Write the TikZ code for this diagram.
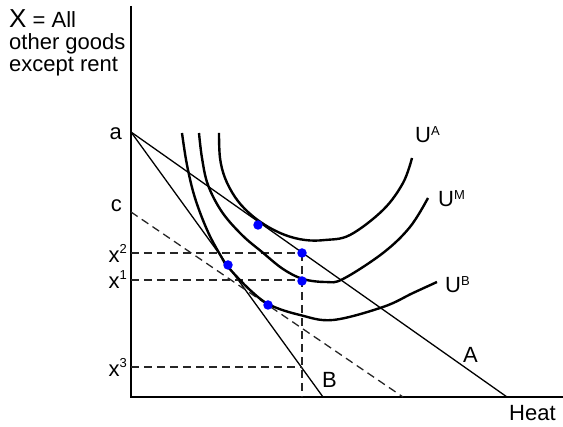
\documentclass[tikz,border=0pt]{standalone}
\usepackage{fontspec}
\setmainfont{Liberation Sans}
\newcommand{\upidx}[2][7pt]{\raisebox{#1}{\fontsize{13}{13}\selectfont #2}}

\begin{document}
\begin{tikzpicture}[x=1pt,y=1pt,
    lab/.style={font=\fontsize{22}{26}\selectfont,inner sep=0pt},
    curve/.style={line width=2.4pt},
    budget/.style={line width=1.3pt},
    guide/.style={line width=1.3pt,black!85,dash pattern=on 8pt off 5pt},
    dot/.style={circle,fill=blue,inner sep=0pt,minimum size=9.5pt}]
  \useasboundingbox (-131,-30) rectangle (432,397);
  % axes
  \coordinate (O) at (0,0);
  \coordinate (ytop) at (0,391);
  \coordinate (xend) at (432,0);
  \draw[line width=1.3pt] (ytop) -- (O) -- (xend);
  % budget lines
  \coordinate (a) at (0,265);
  \coordinate (c) at (0,185);
  \coordinate (Aend) at (376,0);
  \coordinate (Bend) at (192,0);
  \coordinate (Cend) at (272,0);
  \draw[budget] (a) -- (Aend);
  \draw[budget] (a) -- (Bend);
  \draw[guide] (c) -- (Cend);
  % levels of X
  \coordinate (x2) at (0,144);
  \coordinate (x1) at (0,117);
  \coordinate (x3) at (0,30);
  \coordinate (p2) at (171,144);
  \coordinate (p1) at (171,117);
  \coordinate (p3) at (171,30);
  \coordinate (pf) at (171,0);
  \draw[guide] (x2) -- (p2);
  \draw[guide] (x1) -- (p1);
  \draw[guide] (x3) -- (p3);
  \draw[guide] (p2) -- (pf);
  % indifference curves
  \draw[curve] plot[smooth,tension=0.6] coordinates {(88,264) (89,239) (94,219)
    (104,200) (117,185) (134,172) (154,162) (174,157) (194,157) (219,162)
    (252,187) (272,214) (281,239)};
  \draw[curve] plot[smooth,tension=0.6] coordinates {(68,264) (71,239) (77,212)
    (91,185) (111,162) (131,145) (152,128) (172,118) (195,115) (212,118)
    (252,144) (279,170) (297,199)};
  \draw[curve] plot[smooth,tension=0.6] coordinates {(51,264) (56,232) (64,199)
    (77,165) (91,139) (97,130) (119,107) (139,92) (169,82) (202,77) (252,90)
    (282,104) (306,115)};
  % chosen bundles
  \node[dot] (d1) at (127,172) {};
  \node[dot] (d2) at (p2) {};
  \node[dot] (d3) at (97,132) {};
  \node[dot] (d4) at (171,116) {};
  \node[dot] (d5) at (137,92) {};
  % labels
  \node[lab,anchor=base west] (ylab1) at (-122,369) {{\fontsize{26}{26}\selectfont X} = All};
  \node[lab,anchor=base west] (ylab2) at (-122,347) {other goods};
  \node[lab,anchor=base west] (ylab3) at (-122,325) {except rent};
  \node[lab,anchor=base east] (la) at (-9,257) {a};
  \node[lab,anchor=base east] (lc) at (-9,185) {c};
  \node[lab,anchor=east] (lx2) at (-4,144) {x\upidx[9pt]{2}};
  \node[lab,anchor=east] (lx1) at (-4,117) {x\upidx[9pt]{1}};
  \node[lab,anchor=east] (lx3) at (-4,30) {x\upidx[9pt]{3}};
  \node[lab,anchor=base west] (lUA) at (284,254) {U\upidx{A}};
  \node[lab,anchor=base west] (lUM) at (307,190) {U\upidx{M}};
  \node[lab,anchor=base west] (lUB) at (314,104) {U\upidx{B}};
  \node[lab,anchor=base west] (lA) at (332,34) {A};
  \node[lab,anchor=base west] (lB) at (191,9) {B};
  \node[lab,anchor=base west] (lheat) at (378,-24) {Heat};
\end{tikzpicture}
\end{document}
